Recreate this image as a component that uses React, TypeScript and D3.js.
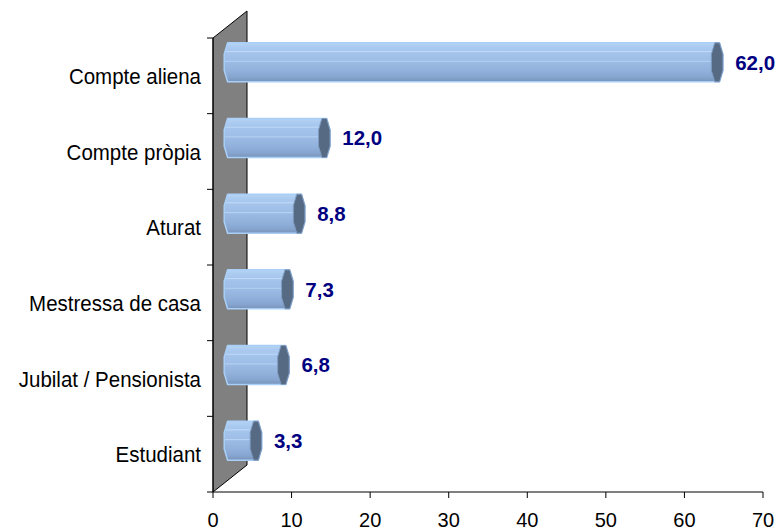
import React from "react";
import * as d3 from "d3";

const categories = ["Compte aliena", "Compte pròpia", "Aturat", "Mestressa de casa", "Jubilat / Pensionista", "Estudiant"];
const values = [62.0, 12.0, 8.8, 7.3, 6.8, 3.3];
const xTicks = [0, 10, 20, 30, 40, 50, 60, 70];

const W = 780;
const H = 531;
const FONT = "'Liberation Sans', Arial, sans-serif";

export default function App() {
  const x = d3.scaleLinear().domain([0, 70]).range([213, 763]);
  const y = d3.scaleBand<string>().domain(categories).range([38, 492]).paddingInner(0).paddingOuter(0);
  const bw = y.bandwidth();
  const depthX = 34;
  const depthY = -27;
  const offX = depthX / 2;
  const offY = depthY / 2;
  const rx = 5.8;
  const ry = 19.5;
  const k = 0.414;
  const x0 = x(0);
  const yTop = y.range()[0];
  const yBot = y.range()[1];

  const boundaries = categories.map((c) => y(c) as number).concat([yBot]);

  const fmt = (v: number) => v.toFixed(1).replace(".", ",");

  const octagon = (cx: number, cy: number) =>
    [
      [cx - k * rx, cy - ry],
      [cx + k * rx, cy - ry],
      [cx + rx, cy - k * ry],
      [cx + rx, cy + k * ry],
      [cx + k * rx, cy + ry],
      [cx - k * rx, cy + ry],
      [cx - rx, cy + k * ry],
      [cx - rx, cy - k * ry],
    ]
      .map((p) => p.join(","))
      .join(" ");

  return (
    <svg width={W} height={H} style={{ display: "block", position: "absolute", left: 0, top: 0 }}>
      <defs>
        <linearGradient id="barGrad" x1="0" y1="0" x2="0" y2="1">
          <stop offset="0" stopColor="#b6d4f6" />
          <stop offset="0.1" stopColor="#abcbf0" />
          <stop offset="0.2" stopColor="#a6c6ee" />
          <stop offset="0.22" stopColor="#c2dbf7" />
          <stop offset="0.25" stopColor="#a4c4ec" />
          <stop offset="0.45" stopColor="#9ebee7" />
          <stop offset="0.47" stopColor="#b8d3f3" />
          <stop offset="0.5" stopColor="#9bbbe4" />
          <stop offset="0.72" stopColor="#91b1dc" />
          <stop offset="0.88" stopColor="#86a5cf" />
          <stop offset="1" stopColor="#7893bb" />
        </linearGradient>
      </defs>
      <rect x={0} y={0} width={W} height={H} fill="#ffffff" />

      {/* wall */}
      <polygon
        points={`${x0},${yTop} ${x0 + depthX},${yTop + depthY} ${x0 + depthX},${yBot + depthY} ${x0},${yBot}`}
        fill="#808080"
        stroke="#000"
        strokeWidth={1}
      />

      {/* y axis */}
      <line x1={x0} x2={x0} y1={yTop} y2={yBot} stroke="#000" strokeWidth={1} />
      {boundaries.map((b, i) => (
        <line key={i} x1={x0 - 6} x2={x0} y1={b} y2={b} stroke="#000" strokeWidth={1} />
      ))}

      {/* x axis */}
      <line x1={x0} x2={x(70)} y1={yBot} y2={yBot} stroke="#000" strokeWidth={1} />
      {xTicks.map((t) => (
        <g key={t}>
          <line x1={x(t)} x2={x(t)} y1={yBot} y2={yBot + 6} stroke="#000" strokeWidth={1} />
          <text
            transform={`translate(${x(t)},527) scale(1,1.05)`}
            textAnchor="middle"
            fontFamily={FONT}
            fontSize={20}
            fill="#000"
          >
            {t}
          </text>
        </g>
      ))}

      {/* category labels */}
      {categories.map((c) => (
        <text
          key={c}
          transform={`translate(201,${(y(c) as number) + bw / 2}) scale(1,1.12)`}
          dy="0.35em"
          textAnchor="end"
          fontFamily={FONT}
          fontSize={20.5}
          fill="#000"
        >
          {c}
        </text>
      ))}

      {/* bars */}
      {categories.map((c, i) => {
        const v = values[i];
        const cy = (y(c) as number) + bw / 2 + offY;
        const bx0 = x(0) + offX;
        const bx1 = x(v) + offX;
        const body = [
          `M${bx0 - k * rx},${cy - ry}`,
          `L${bx1 + k * rx},${cy - ry}`,
          `L${bx1 + rx},${cy - k * ry}`,
          `L${bx1 + rx},${cy + k * ry}`,
          `L${bx1 + k * rx},${cy + ry}`,
          `L${bx0 - k * rx},${cy + ry}`,
          `L${bx0 - rx},${cy + k * ry}`,
          `L${bx0 - rx},${cy - k * ry}`,
          "Z",
        ].join(" ");
        return (
          <g key={c}>
            <path d={body} fill="url(#barGrad)" stroke="#a9cff7" strokeWidth={1.5} strokeLinejoin="round" />
            <polygon points={octagon(bx1, cy)} fill="#566a84" stroke="#7f9cc2" strokeWidth={1} strokeLinejoin="round" />
            <text
              x={bx1 + 18}
              y={cy}
              dy="0.35em"
              fontFamily={FONT}
              fontSize={20.5}
              fontWeight="bold"
              fill="#000080"
            >
              {fmt(v)}
            </text>
          </g>
        );
      })}
    </svg>
  );
}
